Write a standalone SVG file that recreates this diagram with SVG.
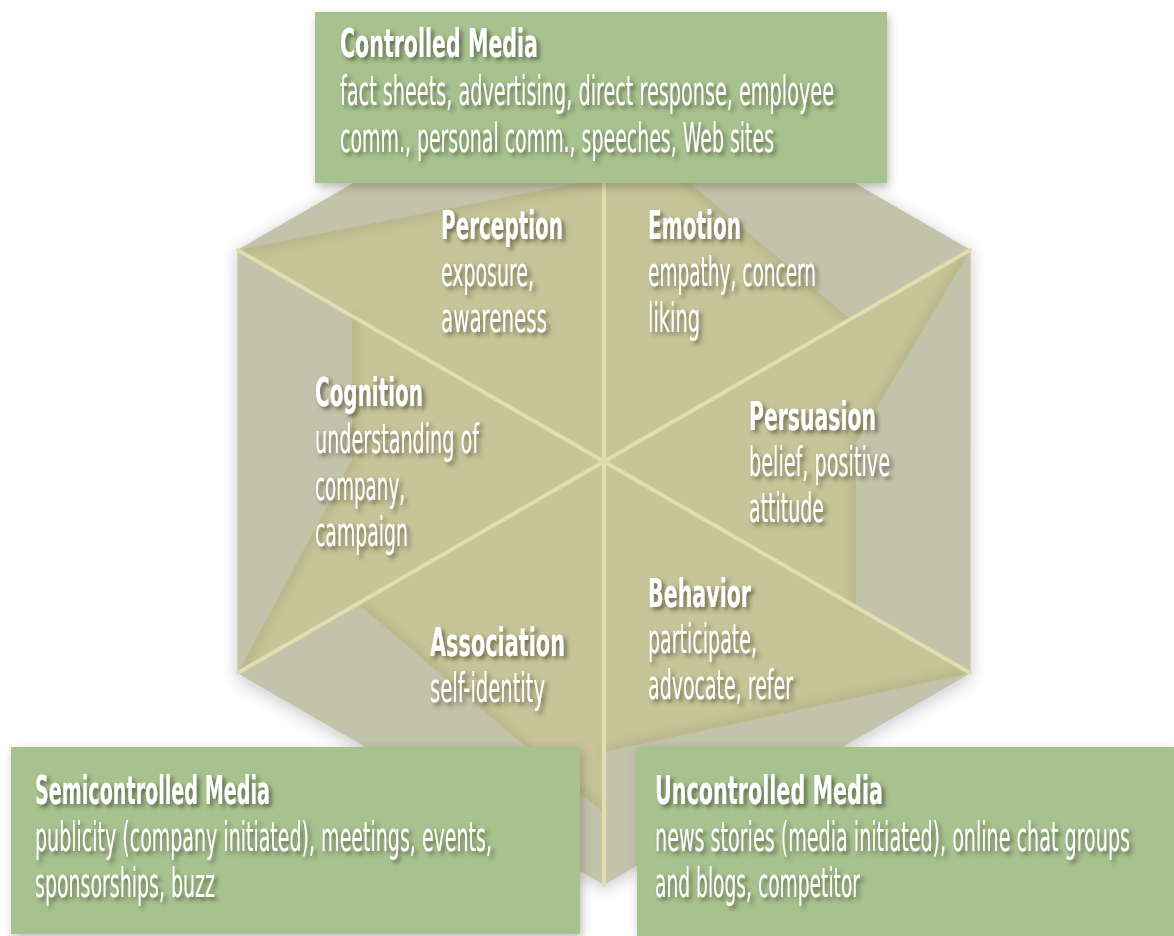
<svg xmlns="http://www.w3.org/2000/svg" width="1174" height="936" viewBox="0 0 1174 936">
<defs>
  <filter id="tsh" x="-10%" y="-30%" width="130%" height="180%">
    <feDropShadow dx="3" dy="3" stdDeviation="2.2" flood-color="#3b3b28" flood-opacity="0.65"/>
  </filter>
  <filter id="bsh" x="-10%" y="-10%" width="120%" height="130%">
    <feDropShadow dx="2" dy="4" stdDeviation="5" flood-color="#5a5a4a" flood-opacity="0.4"/>
  </filter>
  <filter id="hsh" x="-20%" y="-20%" width="140%" height="140%">
    <feGaussianBlur stdDeviation="9"/>
  </filter>
  <filter id="fold" x="-20%" y="-20%" width="140%" height="140%">
    <feGaussianBlur stdDeviation="5"/>
  </filter>
  <clipPath id="hexclip">
    <polygon points="604,38.5 970.3,250 970.3,673 604,884.5 237.7,673 237.7,250"/>
  </clipPath>
</defs>
<style>
  .tt{font-family:"DejaVu Sans Condensed","DejaVu Sans","Liberation Sans",sans-serif;font-stretch:condensed;font-weight:bold;font-size:39px;fill:#ffffff}
  .bt{font-family:"DejaVu Sans Condensed","DejaVu Sans","Liberation Sans",sans-serif;font-stretch:condensed;font-weight:normal;font-size:40px;fill:#ffffff}
  .dark{fill:#c7c499}
  .light{fill:#c3c2aa}
  .foldline{fill:none;stroke:#9c9868;stroke-width:10;opacity:0.35}
  .spoke{stroke:#e2ddae;stroke-width:4;stroke-linecap:round}
  .box{fill:#a7c28f}
</style>

<g id="hexagon">
  <polygon points="604,38.5 970.3,250 970.3,673 604,884.5 237.7,673 237.7,250" fill="#8d8d8d" opacity="0.5" filter="url(#hsh)" transform="translate(0,4)"/>
  <polygon class="dark" points="604,38.5 970.3,250 970.3,673 604,884.5 237.7,673 237.7,250"/>
  <g clip-path="url(#hexclip)" filter="url(#fold)">
    <polyline class="foldline" points="238,250 604,178"/>
    <polyline class="foldline" points="604,110 850,319"/>
    <polyline class="foldline" points="352,316 352,460 238,673"/>
    <polyline class="foldline" points="970,250 856,443 856,607"/>
    <polyline class="foldline" points="970,673 604,752"/>
    <polyline class="foldline" points="358,604 604,813"/>
  </g>
  <polygon class="light" points="237.7,250 604,38.5 604,178"/>
  <polygon class="light" points="604,38.5 970.3,250 850,319 604,110"/>
  <polygon class="light" points="237.7,250 352,316 352,460 237.7,673"/>
  <polygon class="light" points="970.3,673 856,607 856,443 970.3,250"/>
  <polygon class="light" points="970.3,673 604,884.5 604,752"/>
  <polygon class="light" points="604,884.5 237.7,673 358,604 604,813"/>
</g>

<g id="connectors">
  <line class="spoke" x1="604" y1="461.5" x2="604" y2="38.5"/>
  <line class="spoke" x1="604" y1="461.5" x2="970.3" y2="250"/>
  <line class="spoke" x1="604" y1="461.5" x2="970.3" y2="673"/>
  <line class="spoke" x1="604" y1="461.5" x2="604" y2="884.5"/>
  <line class="spoke" x1="604" y1="461.5" x2="237.7" y2="673"/>
  <line class="spoke" x1="604" y1="461.5" x2="237.7" y2="250"/>
</g>

<g id="perception" filter="url(#tsh)">
  <text class="tt" x="441" y="239" textLength="122" lengthAdjust="spacingAndGlyphs">Perception</text>
  <text class="bt" x="441" y="286" textLength="93" lengthAdjust="spacingAndGlyphs">exposure,</text>
  <text class="bt" x="441" y="332" textLength="106" lengthAdjust="spacingAndGlyphs">awareness</text>
</g>
<g id="emotion" filter="url(#tsh)">
  <text class="tt" x="648" y="239" textLength="93" lengthAdjust="spacingAndGlyphs">Emotion</text>
  <text class="bt" x="648" y="286" textLength="168" lengthAdjust="spacingAndGlyphs">empathy, concern</text>
  <text class="bt" x="648" y="332" textLength="52" lengthAdjust="spacingAndGlyphs">liking</text>
</g>
<g id="cognition" filter="url(#tsh)">
  <text class="tt" x="315" y="406" textLength="108" lengthAdjust="spacingAndGlyphs">Cognition</text>
  <text class="bt" x="315" y="453" textLength="164" lengthAdjust="spacingAndGlyphs">understanding of</text>
  <text class="bt" x="315" y="500" textLength="90" lengthAdjust="spacingAndGlyphs">company,</text>
  <text class="bt" x="315" y="546" textLength="93" lengthAdjust="spacingAndGlyphs">campaign</text>
</g>
<g id="persuasion" filter="url(#tsh)">
  <text class="tt" x="749" y="430" textLength="127" lengthAdjust="spacingAndGlyphs">Persuasion</text>
  <text class="bt" x="749" y="476" textLength="141" lengthAdjust="spacingAndGlyphs">belief, positive</text>
  <text class="bt" x="749" y="522" textLength="75" lengthAdjust="spacingAndGlyphs">attitude</text>
</g>
<g id="behavior" filter="url(#tsh)">
  <text class="tt" x="648" y="607" textLength="103" lengthAdjust="spacingAndGlyphs">Behavior</text>
  <text class="bt" x="648" y="653" textLength="109" lengthAdjust="spacingAndGlyphs">participate,</text>
  <text class="bt" x="648" y="699" textLength="145" lengthAdjust="spacingAndGlyphs">advocate, refer</text>
</g>
<g id="association" filter="url(#tsh)">
  <text class="tt" x="430" y="656" textLength="135" lengthAdjust="spacingAndGlyphs">Association</text>
  <text class="bt" x="430" y="702" textLength="115" lengthAdjust="spacingAndGlyphs">self-identity</text>
</g>

<g id="controlled-media">
  <rect class="box" x="315" y="12" width="572" height="171" filter="url(#bsh)"/>
  <g filter="url(#tsh)">
    <text class="tt" x="340" y="57" textLength="198" lengthAdjust="spacingAndGlyphs">Controlled Media</text>
    <text class="bt" x="340" y="105" textLength="494" lengthAdjust="spacingAndGlyphs">fact sheets, advertising, direct response, employee</text>
    <text class="bt" x="340" y="152" textLength="434" lengthAdjust="spacingAndGlyphs">comm., personal comm., speeches, Web sites</text>
  </g>
</g>
<g id="semicontrolled-media">
  <rect class="box" x="11" y="747" width="569" height="187" filter="url(#bsh)"/>
  <g filter="url(#tsh)">
    <text class="tt" x="35" y="804" textLength="235" lengthAdjust="spacingAndGlyphs">Semicontrolled Media</text>
    <text class="bt" x="35" y="851" textLength="457" lengthAdjust="spacingAndGlyphs">publicity (company initiated), meetings, events,</text>
    <text class="bt" x="35" y="897" textLength="180" lengthAdjust="spacingAndGlyphs">sponsorships, buzz</text>
  </g>
</g>
<g id="uncontrolled-media">
  <rect class="box" x="637" y="747" width="540" height="189" filter="url(#bsh)"/>
  <g filter="url(#tsh)">
    <text class="tt" x="655" y="804" textLength="228" lengthAdjust="spacingAndGlyphs">Uncontrolled Media</text>
    <text class="bt" x="655" y="851" textLength="475" lengthAdjust="spacingAndGlyphs">news stories (media initiated), online chat groups</text>
    <text class="bt" x="655" y="897" textLength="205" lengthAdjust="spacingAndGlyphs">and blogs, competitor</text>
  </g>
</g>
</svg>
